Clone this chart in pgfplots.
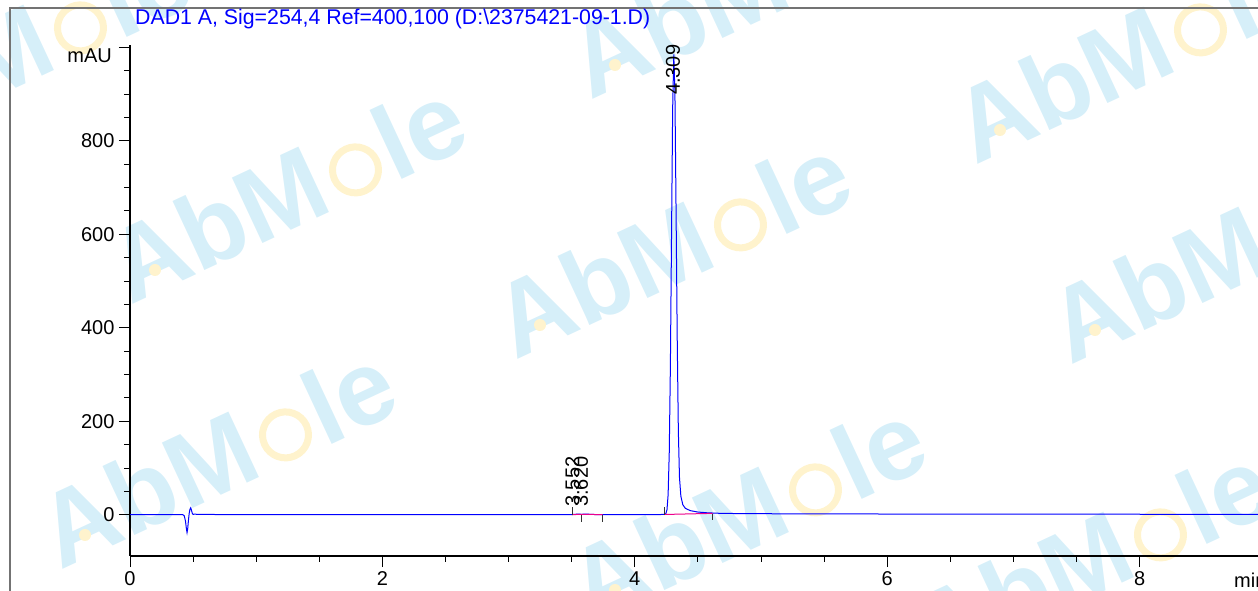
\documentclass[border=0pt]{standalone}
\usepackage{fontspec}
\setmainfont{Liberation Sans}
\usepackage{pgfplots}
\pgfplotsset{compat=1.18}
\definecolor{wmblue}{RGB}{214,239,249}
\definecolor{wmyellow}{RGB}{255,243,205}
\definecolor{sigblue}{RGB}{0,0,255}
\newcommand\wm[2]{%
 \begin{scope}[shift={(#1pt,591pt-#2pt)},rotate=25]
  \node[transform shape,anchor=base west,inner sep=0pt,text=wmblue,font=\fontsize{105}{105}\selectfont\bfseries] at (-38pt,-22pt) {AbM\hspace{0.62em}le};
  \draw[wmyellow,line width=7pt] (224pt,6pt) circle (23pt);
  \fill[wmyellow] (0pt,0pt) circle (6pt);
 \end{scope}}
\begin{document}
\begin{tikzpicture}
% watermark
\wm{155}{270}
\wm{540}{325}
\wm{1095}{330}
\wm{85}{535}
\wm{615}{590}
\wm{615}{65}
\wm{1000}{130}
\wm{-120}{128}
\wm{960}{635}
% frame
\draw[black!55,line width=2pt] (10pt,-5pt) -- (10pt,583pt) -- (1275pt,583pt);
% title
\node[anchor=base west,inner sep=0pt,text=sigblue,font=\fontsize{21.3}{21.3}\selectfont] at (135pt,566pt) {DAD1 A, Sig=254,4 Ref=400,100 (D:\textbackslash 2375421-09-1.D)};
\node[anchor=east,inner sep=0pt,font=\fontsize{20}{20}\selectfont] at (112pt,535pt) {mAU};
\node[anchor=west,inner sep=0pt,font=\fontsize{20}{20}\selectfont] at (1234pt,11pt) {min};
\begin{axis}[
  at={(130pt,35pt)}, anchor=south west,
  x=126.2pt, y=0.4675pt,
  xmin=0, xmax=8.98, ymin=-88, ymax=1005,
  axis x line*=bottom, axis y line*=left,
  xtick={0,2,4,6,8}, minor x tick num=3,
  ytick={0,200,400,600,800,1000}, yticklabels={0,200,400,600,800,{}},
  minor y tick num=3,
  tick align=outside,
  major tick length=11pt, minor tick length=6pt,
  every tick/.style={black,line width=1pt},
  axis line style={black,line width=1.2pt},
  tick label style={font=\fontsize{20}{24}\selectfont},
  yticklabel style={xshift=-1pt},
  xticklabel style={yshift=-1.5pt},
  /pgf/number format/assume math mode=true,
  clip=false,
]
\addplot[sigblue,line width=1pt] coordinates {
(0,0.5) (0.40,0.5) (0.42,0.2) (0.43,-2) (0.44,-14) (0.447,-30) (0.452,-38) (0.457,-30)
(0.463,-12) (0.469,3) (0.475,12) (0.481,15) (0.487,10) (0.494,3) (0.50,1) (0.51,1.5)
(0.53,1.2) (0.6,0.8) (1.0,0.6) (2.0,0.5) (3.0,0.5) (3.50,0.6) (3.53,1.2) (3.552,1.8)
(3.575,1.2) (3.60,1.4) (3.620,1.8) (3.65,1.0) (3.70,0.6) (4.0,0.6) (4.2,0.7) (4.237,1)
(4.246,2.5) (4.255,11) (4.264,43) (4.273,133) (4.282,319) (4.291,597) (4.300,869)
(4.309,985) (4.318,900) (4.327,650) (4.336,380) (4.345,180) (4.354,80) (4.365,40)
(4.38,22) (4.40,14) (4.44,9) (4.50,6) (4.57,4.5) (4.65,3.5) (4.8,2.8) (5.2,2.2)
(6,1.8) (7,1.5) (8,1.3) (8.98,1.2)};
\addplot[magenta,line width=1pt] coordinates {(3.505,0.6) (3.58,1.0) (3.745,0.6)};
\addplot[magenta,line width=1pt] coordinates {(4.234,0.8) (4.617,3.2)};
\addplot[black!80,line width=0.9pt] coordinates {(3.505,-1) (3.505,16)};
\addplot[black!80,line width=0.9pt] coordinates {(3.58,-1) (3.58,-15)};
\addplot[black!80,line width=0.9pt] coordinates {(3.744,-1) (3.744,-15)};
\addplot[black!80,line width=0.9pt] coordinates {(4.234,-1) (4.234,16)};
\addplot[black!80,line width=0.9pt] coordinates {(4.617,2) (4.617,-11)};
\node[rotate=90,anchor=west,inner sep=0pt,font=\fontsize{20}{20}\selectfont] at (axis cs:3.506,17) {3.552};
\node[rotate=90,anchor=west,inner sep=0pt,font=\fontsize{20}{20}\selectfont] at (axis cs:3.574,17) {3.620};
\node[rotate=90,anchor=west,inner sep=0pt,font=\fontsize{20}{20}\selectfont] at (axis cs:4.303,898) {4.309};
\end{axis}
\pgfresetboundingbox
\useasboundingbox (0,0) rectangle (1258pt,591pt);
\end{tikzpicture}
\end{document}
